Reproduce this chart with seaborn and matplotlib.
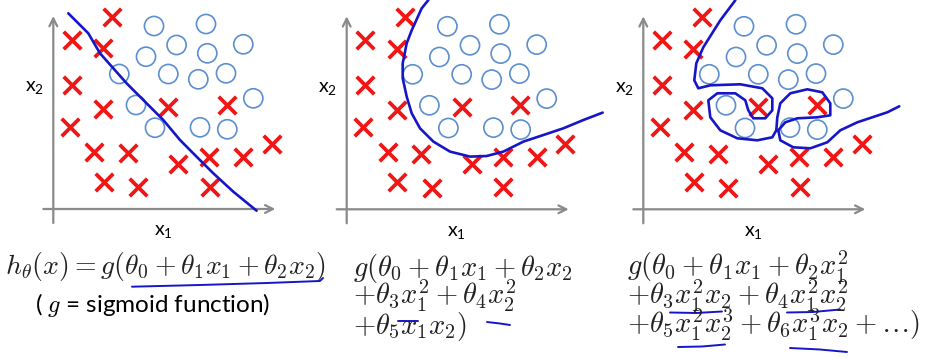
import numpy as np
import pandas as pd
import matplotlib
matplotlib.use("Agg")
import matplotlib.pyplot as plt
import seaborn as sns

sns.set_theme(style="white")
plt.rcParams["font.family"] = ["Lato", "DejaVu Sans"]
plt.rcParams["mathtext.fontset"] = "cm"

# ---------------- data (panel coordinates, origin at axis corner) ----------------
cross_x1 = [58.3, 18.3, 50.0, 18.3, 50.0, 115.0, 173.3, 16.7, 41.0, 74.3, 125.0, 156.0, 190.0, 218.3, 50.7, 85.0, 156.7]
cross_x2 = [192.3, 169.0, 160.7, 124.0, 99.7, 102.3, 104.0, 82.3, 57.3, 55.7, 45.0, 52.3, 52.3, 65.0, 27.3, 21.7, 22.3]

circle_x1 = [100.7, 152.7, 123.3, 190.0, 92.7, 154.0, 66.0, 115.0, 145.0, 172.7, 200.0, 82.7, 101.7, 146.7, 174.0]
circle_x2 = [183.0, 185.0, 164.0, 164.7, 152.3, 155.7, 135.0, 135.0, 129.7, 135.7, 110.7, 104.0, 81.3, 81.7, 79.7]

# decision boundaries (hand-drawn)
b1_x1 = [15.0, 35.0, 46.7, 60.0, 73.3, 90.0, 110.0, 126.7, 143.3, 160.0, 180.0, 203.3]
b1_x2 = [195.7, 175.7, 155.7, 140.7, 125.7, 109.0, 89.0, 69.0, 52.3, 35.7, 17.3, -1.7]

b2_x1 = [81.7, 75.0, 65.0, 60.0, 56.0, 56.0, 60.0, 65.0, 73.3, 86.7, 103.3, 123.3, 140.0, 156.7, 176.7, 196.7, 216.7, 236.7, 256.0]
b2_x2 = [209.3, 201.0, 179.0, 166.0, 146.0, 131.0, 112.7, 96.0, 81.0, 67.7, 57.7, 52.7, 53.3, 57.7, 67.7, 74.3, 81.0, 89.3, 96.7]

b3_x1 = [92, 77, 60, 53, 51, 55, 67, 97, 119, 129, 129, 122, 110, 105, 102, 92, 74, 65, 67, 77, 94, 114, 129,
         133, 134, 137, 147, 164, 179, 187, 187, 174, 154, 142, 135, 137, 150, 167, 184, 197, 214, 232, 244, 256]
b3_x2 = [209, 189, 162, 146, 129, 121, 124, 125, 121, 111, 99, 91, 91, 99, 109, 116, 116, 109, 92, 79, 71, 69, 72,
         79, 92, 106, 116, 120, 117, 106, 94, 92, 91, 87, 79, 69, 62, 61, 67, 79, 87, 93, 97, 103]

boundaries = [(b1_x1, b1_x2), (b2_x1, b2_x2), (b3_x1, b3_x2)]

# formulas
formula1 = r"$h_\theta(x) = g(\theta_0 + \theta_1 x_1 + \theta_2 x_2)$"
note1 = r"( $g$ = sigmoid function)"
formula2 = [r"$g(\theta_0 + \theta_1 x_1 + \theta_2 x_2$",
            r"$+\theta_3 x_1^2 + \theta_4 x_2^2$",
            r"$+\theta_5 x_1 x_2)$"]
formula3 = [r"$g(\theta_0 + \theta_1 x_1 + \theta_2 x_1^2$",
            r"$+\theta_3 x_1^2 x_2 + \theta_4 x_1^2 x_2^2$",
            r"$+\theta_5 x_1^2 x_2^3 + \theta_6 x_1^3 x_2 + \ldots)$"]

# hand-drawn underlines (figure pixels)
underlines = [
    ([132, 200, 267, 320, 323], [286.7, 285, 283, 281, 278]),
    ([398, 418], [320.5, 320.5]),
    ([487, 500, 510], [322, 323.5, 325]),
    ([670, 696, 722], [312.5, 313, 311.5]),
    ([787, 813, 840], [312.5, 312, 309.5]),
    ([678, 702, 725], [347, 346.5, 344.5]),
    ([790, 820, 847], [348, 349.5, 352]),
]

# ---------------- layout ----------------
W, H = 929, 358
fig = plt.figure(figsize=(W / 100, H / 100), dpi=100)

panels = [  # left px, right px, origin x px, origin y px
    (0, 300, 53.3, 209.0),
    (300, 620, 346.7, 209.3),
    (620, 929, 643.3, 209.3),
]

RED = "#f01616"
CBLUE = "#5b8fcf"
LBLUE = "#1616c8"
GRAY = "#8a8a8a"

pts_x = pd.DataFrame({"x1": cross_x1, "x2": cross_x2})
pts_o = pd.DataFrame({"x1": circle_x1, "x2": circle_x2})

for (L, R, ox, oy), (bx, by) in zip(panels, boundaries):
    ax = fig.add_axes([L / W, 0, (R - L) / W, 1])
    ax.set_xlim(L - ox, R - ox)
    ax.set_ylim(oy - H, oy)
    ax.axis("off")
    # axes arrows
    ax.annotate("", xy=(0, 193), xytext=(0, -14),
                arrowprops=dict(arrowstyle="->", color=GRAY, lw=1.6, mutation_scale=14,
                                shrinkA=0, shrinkB=0))
    ax.annotate("", xy=(222, 0), xytext=(-10, 0),
                arrowprops=dict(arrowstyle="->", color=GRAY, lw=1.6, mutation_scale=14,
                                shrinkA=0, shrinkB=0))
    ax.text(-19, 121, r"$\mathregular{x_2}$", ha="center", va="center", fontsize=14, color="black")
    ax.text(110, -23, r"$\mathregular{x_1}$", ha="center", va="center", fontsize=14, color="black")

    sns.scatterplot(data=pts_x, x="x1", y="x2", marker="x", s=160, color=RED,
                    linewidth=2.7, ax=ax, clip_on=False, zorder=3)
    sns.scatterplot(data=pts_o, x="x1", y="x2", marker="o", s=190, facecolor="none",
                    edgecolor=CBLUE, linewidth=1.2, ax=ax, clip_on=False, zorder=3)
    bd = pd.DataFrame({"x1": bx, "x2": by})
    sns.lineplot(data=bd, x="x1", y="x2", sort=False, estimator=None, color=LBLUE,
                 lw=1.9, ax=ax, zorder=4)
    ax.set_xlabel("")
    ax.set_ylabel("")

# overlay in pixel coordinates for formulas
ov = fig.add_axes([0, 0, 1, 1])
ov.set_xlim(0, W)
ov.set_ylim(H, 0)
ov.axis("off")

ov.text(5, 274, formula1, fontsize=20, va="baseline", ha="left", color="#222222")
ov.text(35, 312, note1, fontsize=17.5, va="baseline", ha="left", color="black")
for i, s in enumerate(formula2):
    ov.text(353, 276 + 29 * i, s, fontsize=20.5, va="baseline", ha="left", color="#222222")
for i, s in enumerate(formula3):
    ov.text(627, 276 + 29 * i, s, fontsize=20.5, va="baseline", ha="left", color="#222222")

for ux, uy in underlines:
    ov.plot(ux, uy, color=LBLUE, lw=1.4, solid_capstyle="round")

fig.savefig("out.png", dpi=100)
